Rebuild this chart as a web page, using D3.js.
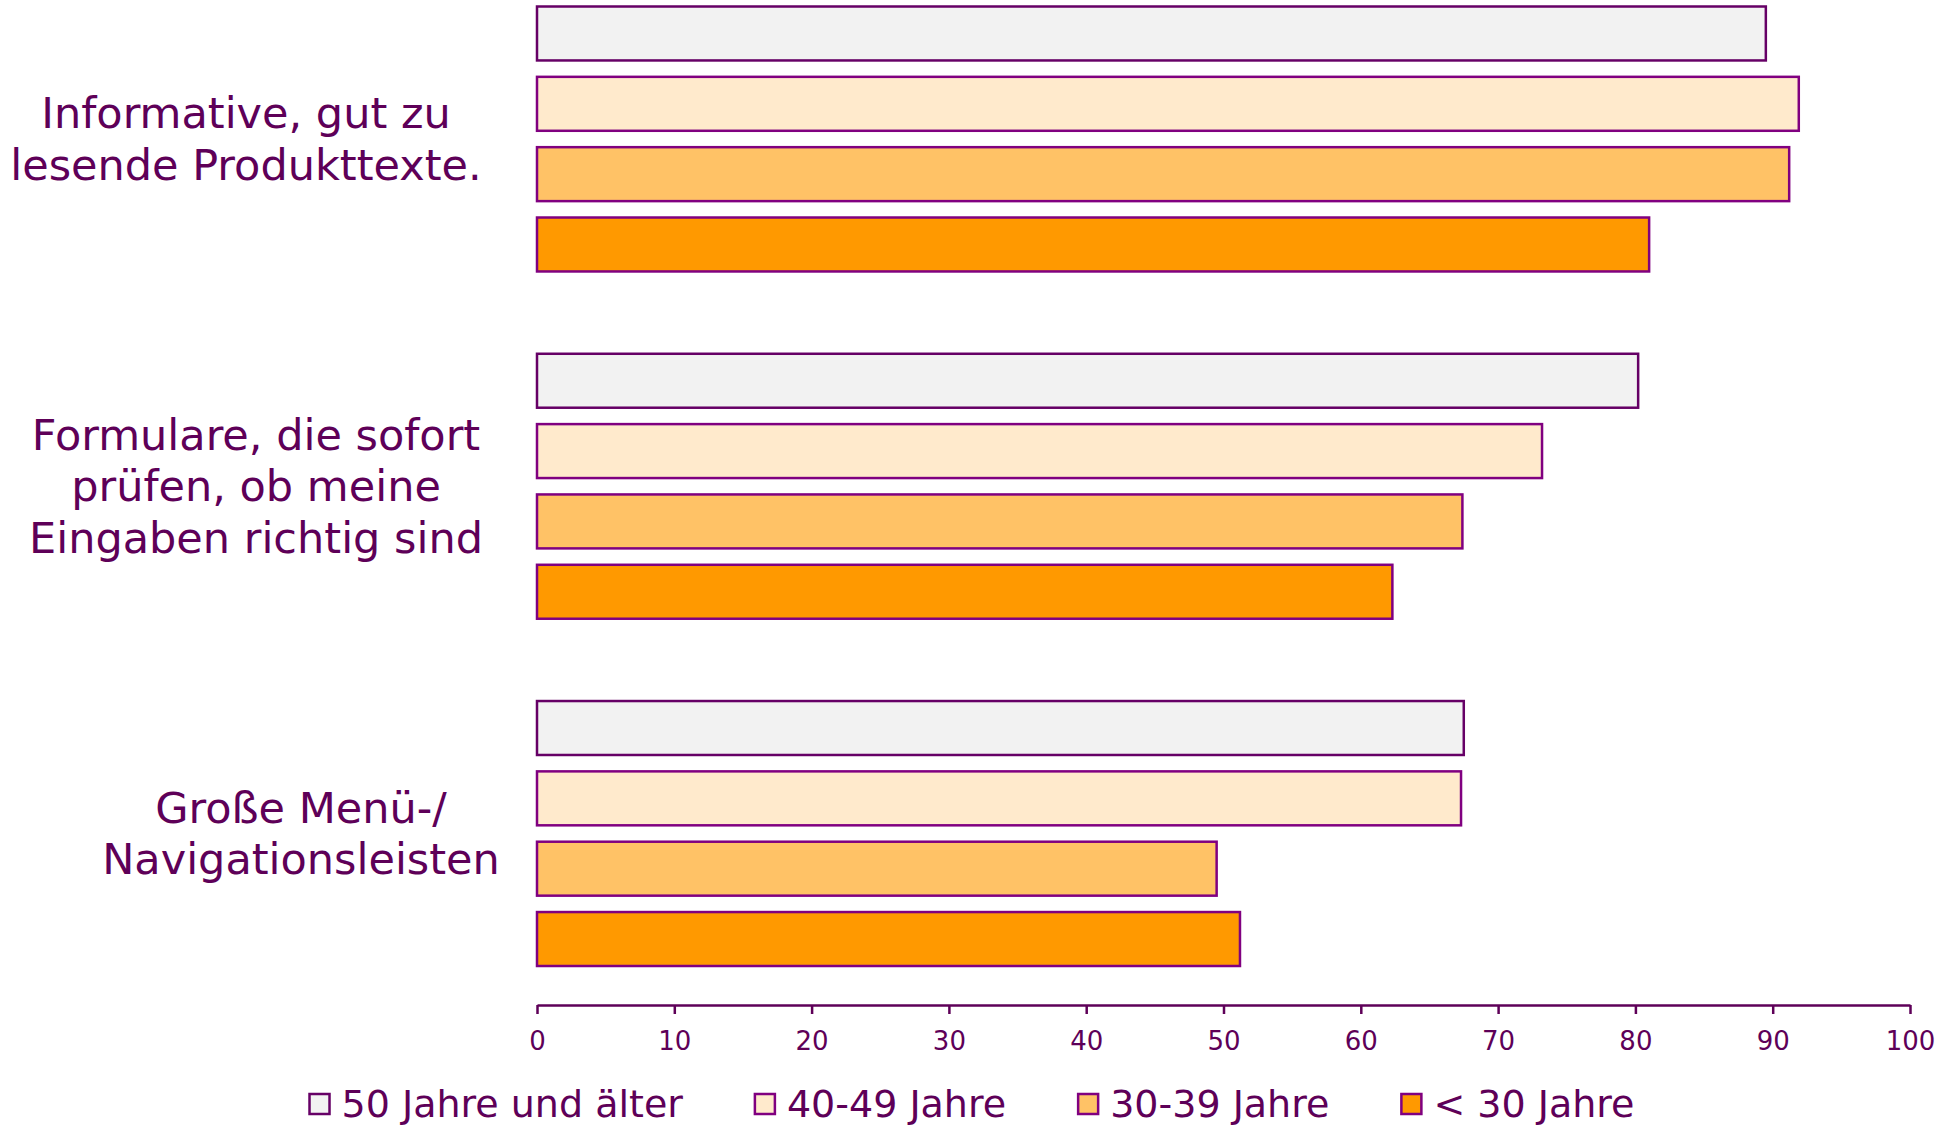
<!DOCTYPE html>
<html>
<head>
<meta charset="utf-8">
<script src="https://cdn.jsdelivr.net/npm/d3@7"></script>
<style>
  body { margin: 0; background: #fff; }
  svg { display: block; }
  text { font-family: "DejaVu Sans", Verdana, sans-serif; fill: #5e0058; }
</style>
</head>
<body>
<div id="chart"></div>
<script>
// data
var categories = [
  ["Informative, gut zu", "lesende Produkttexte."],
  ["Formulare, die sofort", "prüfen, ob meine", "Eingaben richtig sind"],
  ["Große Menü-/", "Navigationsleisten"]
];
var series = ["50 Jahre und älter", "40-49 Jahre", "30-39 Jahre", "< 30 Jahre"];
var alt50 = [89.5, 80.2, 67.5];
var alt40 = [91.9, 73.2, 67.3];
var alt30 = [91.2, 67.4, 49.5];
var unter30 = [81.0, 62.3, 51.2];
var ticks = [0, 10, 20, 30, 40, 50, 60, 70, 80, 90, 100];

var colors = ["#f2f2f2", "#ffeacc", "#ffc266", "#ff9900"];
var strokes = ["#660066", "#800080", "#800080", "#800080"];

var width = 1960, height = 1125;
var values = [alt50, alt40, alt30, unter30];

var svg = d3.select("#chart").append("svg")
  .attr("width", width)
  .attr("height", height);

var x = d3.scaleLinear().domain([0, 100]).range([537, 1910]);

var y0 = d3.scaleBand()
  .domain(d3.range(categories.length))
  .range([6.5, 966])
  .paddingInner(0.237)
  .paddingOuter(0);

var y1 = d3.scaleBand()
  .domain(d3.range(series.length))
  .range([0, y0.bandwidth()])
  .paddingInner(0.233)
  .paddingOuter(0);

// bars
var groups = svg.selectAll(".grp")
  .data(categories)
  .enter().append("g")
  .attr("class", "grp")
  .attr("transform", function(d, i) { return "translate(0," + y0(i) + ")"; });

groups.selectAll("rect")
  .data(function(d, i) { return values.map(function(v, s) { return {s: s, v: v[i]}; }); })
  .enter().append("rect")
  .attr("x", x(0))
  .attr("y", function(d) { return y1(d.s); })
  .attr("width", function(d) { return x(d.v) - x(0); })
  .attr("height", y1.bandwidth())
  .style("fill", function(d) { return colors[d.s]; })
  .style("stroke", function(d) { return strokes[d.s]; })
  .style("stroke-width", 2.5);

// category labels, each block centred on its group
var labelCx = [246, 256, 301];
var lineH = 51.5;
groups.each(function(lines, i) {
  var t = d3.select(this).append("text")
    .attr("text-anchor", "middle")
    .style("font-size", "43px");
  var first = y0.bandwidth() / 2 - (lines.length - 1) * lineH / 2;
  lines.forEach(function(l, k) {
    t.append("tspan")
      .attr("x", labelCx[i])
      .attr("y", first + k * lineH)
      .attr("dy", "0.35em")
      .text(l);
  });
});

// x axis
var axis = svg.append("g")
  .attr("transform", "translate(0,1005)")
  .call(d3.axisBottom(x).tickValues(ticks).tickSize(9).tickPadding(18).tickSizeOuter(0));
axis.select(".domain").style("stroke", "#5e0058").style("stroke-width", 2.5);
axis.selectAll(".tick line").style("stroke", "#5e0058").style("stroke-width", 2.5);
axis.selectAll(".tick text")
  .style("font-family", "'DejaVu Sans', Verdana, sans-serif")
  .style("font-size", "26px")
  .style("fill", "#5e0058");

// legend
var legend = svg.append("g").attr("transform", "translate(0,1104)");
var items = legend.selectAll(".item")
  .data(series)
  .enter().append("g")
  .attr("class", "item");
items.append("rect")
  .attr("x", 0).attr("y", -10)
  .attr("width", 20).attr("height", 20)
  .style("fill", function(d, i) { return colors[i]; })
  .style("stroke", function(d, i) { return strokes[i]; })
  .style("stroke-width", 2.5);
items.append("text")
  .attr("x", 32)
  .attr("dy", "0.35em")
  .style("font-size", "38px")
  .text(function(d) { return d; });

var pos = 0, xs = [];
items.each(function() {
  xs.push(pos);
  pos += 32 + d3.select(this).select("text").node().getComputedTextLength() + 72;
});
var total = pos - 72;
var start = 972 - total / 2;
items.attr("transform", function(d, i) { return "translate(" + (start + xs[i]) + ",0)"; });
</script>
</body>
</html>
